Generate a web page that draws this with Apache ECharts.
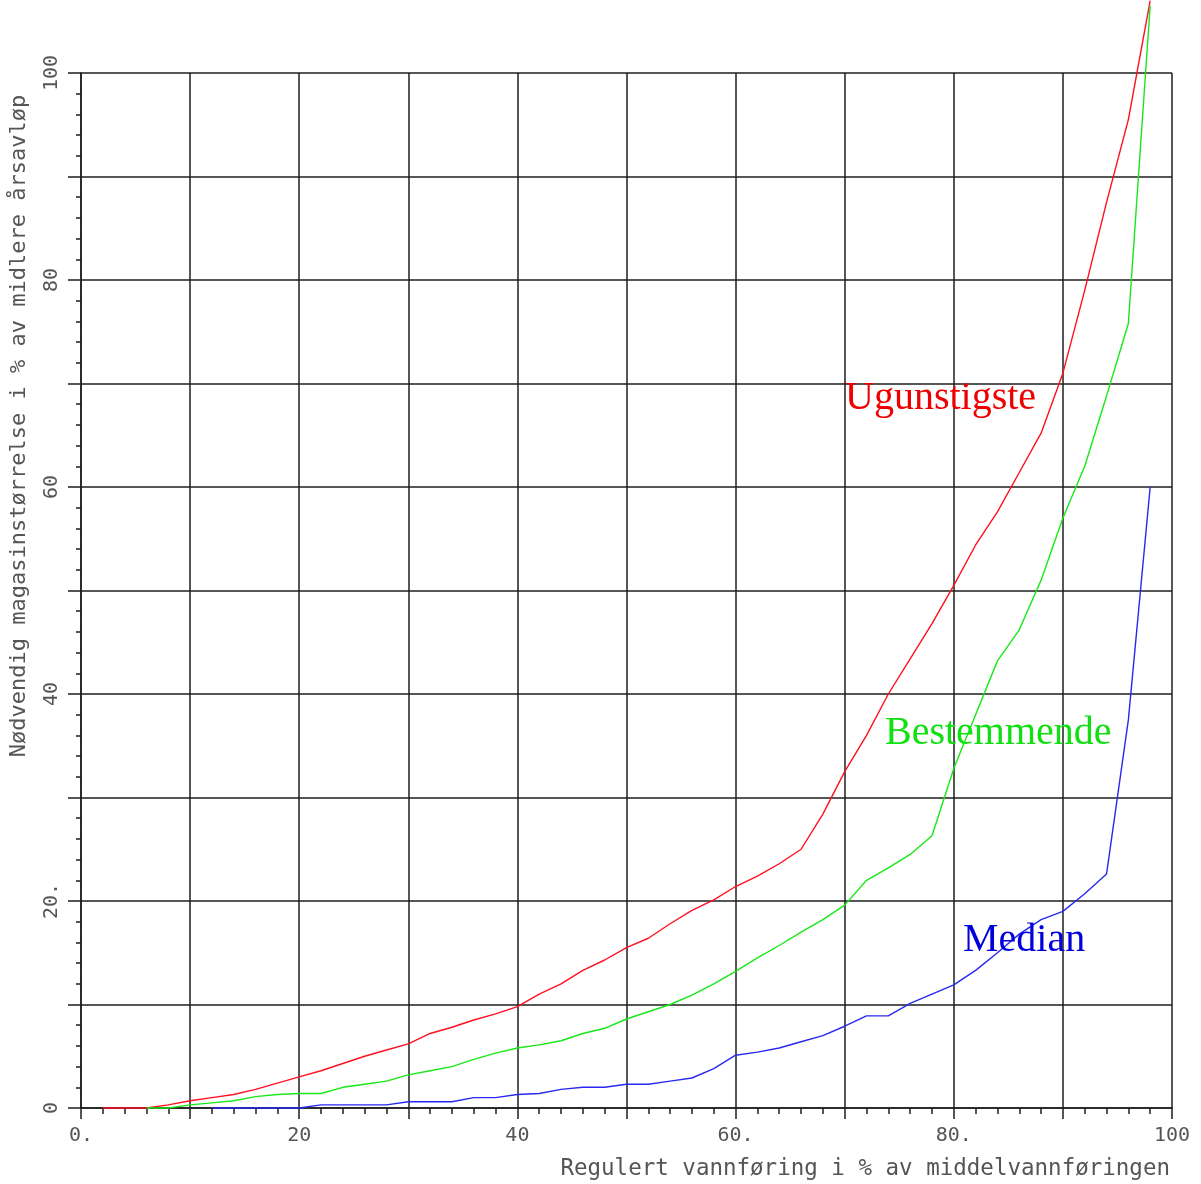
<!DOCTYPE html>
<html>
<head>
<meta charset="utf-8">
<script src="https://cdn.jsdelivr.net/npm/echarts@6/dist/echarts.min.js"></script>
<style>
html,body{margin:0;padding:0;background:#fff;}
#chart{width:1201px;height:1184px;}
</style>
</head>
<body>
<div id="chart"></div>
<script>
// x values (regulated flow, % of mean flow)
const xValues = [0,2,4,6,8,10,12,14,16,18,20,22,24,26,28,30,32,34,36,38,40,42,44,46,48,50,52,54,56,58,60,62,64,66,68,70,72,74,76,78,80,82,84,86,88,90,92,94,96,98];
// Ugunstigste (red)
const ugunstigste = [null,0,0,0,0.3,0.7,1.0,1.3,1.8,2.4,3.0,3.6,4.3,5.0,5.6,6.2,7.2,7.8,8.5,9.1,9.8,11.0,12.0,13.3,14.3,15.5,16.4,17.8,19.1,20.1,21.4,22.4,23.6,25.0,28.4,32.5,36.0,40.0,43.4,46.8,50.5,54.4,57.6,61.4,65.2,71.0,79.0,87.5,95.5,107.0];
// Bestemmende (green)
const bestemmende = [null,null,null,0,0,0.3,0.5,0.7,1.1,1.3,1.4,1.4,2.0,2.3,2.6,3.2,3.6,4.0,4.7,5.3,5.8,6.1,6.5,7.2,7.7,8.6,9.3,10.0,10.9,12.0,13.2,14.5,15.7,17.0,18.2,19.6,22.0,23.2,24.5,26.3,32.8,38.0,43.2,46.2,51.0,57.0,62.0,68.8,75.8,106.5];
// Median (blue)
const median = [null,null,null,null,null,null,0,0,0,0,0,0.3,0.3,0.3,0.3,0.6,0.6,0.6,1.0,1.0,1.3,1.4,1.8,2.0,2.0,2.3,2.3,2.6,2.9,3.8,5.1,5.4,5.8,6.4,7.0,7.9,8.9,8.9,10.1,11.0,11.9,13.3,15.0,16.8,18.2,19.0,20.7,22.6,37.5,60.0];

const xTickValues = [0,20,40,60,80,100];
const xTickLabels = ['0.','20','40','60.','80.','100'];
const yTickValues = [0,20,40,60,80,100];
const yTickLabels = ['0','20.','40','60','80','100'];

const seriesNames = ['Ugunstigste','Bestemmende','Median'];
const xAxisTitle = 'Regulert vannføring i % av middelvannføringen';
const yAxisTitle = 'Nødvendig magasinstørrelse i % av midlere årsavløp';

function pairs(ys){ return xValues.map((x,i)=>[x, ys[i]]); }

const chart = echarts.init(document.getElementById('chart'), null, {renderer:'canvas'});
const gridColor = '#1e1e1e';
const labelFont = '"DejaVu Sans Mono", monospace';

chart.setOption({
  animation:false,
  backgroundColor:'#ffffff',
  grid:{left:81, right:29, top:73, bottom:76},
  xAxis:{
    type:'value', min:0, max:100, interval:10,
    axisLine:{show:true, onZero:false, lineStyle:{color:gridColor, width:1.5}},
    axisTick:{show:true, inside:false, length:11, lineStyle:{color:gridColor, width:1.5}},
    minorTick:{show:true, splitNumber:5, length:6, lineStyle:{color:gridColor, width:1.5}},
    splitLine:{show:true, lineStyle:{color:gridColor, width:1.5}},
    axisLabel:{
      margin:18, color:'#555', fontFamily:labelFont, fontSize:20,
      formatter:function(v){ const i = xTickValues.indexOf(v); return i>=0 ? xTickLabels[i] : ''; }
    }
  },
  yAxis:{
    type:'value', min:0, max:100, interval:10,
    axisLine:{show:true, onZero:false, lineStyle:{color:gridColor, width:1.5}},
    axisTick:{show:true, inside:false, length:13, lineStyle:{color:gridColor, width:1.5}},
    minorTick:{show:true, splitNumber:5, length:5, lineStyle:{color:gridColor, width:1.5}},
    splitLine:{show:true, lineStyle:{color:gridColor, width:1.5}},
    axisLabel:{
      rotate:90, margin:19, color:'#555', fontFamily:labelFont, fontSize:20,
      formatter:function(v){ const i = yTickValues.indexOf(v); return i>=0 ? yTickLabels[i] : ''; }
    }
  },
  series:[
    {name:seriesNames[0], type:'line', data:pairs(ugunstigste), showSymbol:false, clip:false,
     lineStyle:{color:'#ff1020', width:1.4}, itemStyle:{color:'#ff1020'}, z:3},
    {name:seriesNames[1], type:'line', data:pairs(bestemmende), showSymbol:false, clip:false,
     lineStyle:{color:'#18e818', width:1.4}, itemStyle:{color:'#18e818'}, z:4},
    {name:seriesNames[2], type:'line', data:pairs(median), showSymbol:false, clip:false,
     lineStyle:{color:'#2828f0', width:1.4}, itemStyle:{color:'#2828f0'}, z:5}
  ],
  graphic:[
    {type:'text', left:845, top:378, z:10, style:{text:seriesNames[0], fill:'#ee0000', font:'40px "Liberation Serif", serif'}},
    {type:'text', left:885, top:713, z:10, style:{text:seriesNames[1], fill:'#10e010', font:'40px "Liberation Serif", serif'}},
    {type:'text', left:963, top:920, z:10, style:{text:seriesNames[2], fill:'#0000dd', font:'40px "Liberation Serif", serif'}},
    {type:'text', right:31, top:1158, z:10, style:{text:xAxisTitle, fill:'#555', font:'22.5px "DejaVu Sans Mono", monospace'}},
    {type:'text', x:8, y:426, rotation:Math.PI/2, z:10, style:{text:yAxisTitle, fill:'#555', font:'22px "DejaVu Sans Mono", monospace', align:'center', verticalAlign:'top'}}
  ]
});
</script>
</body>
</html>
